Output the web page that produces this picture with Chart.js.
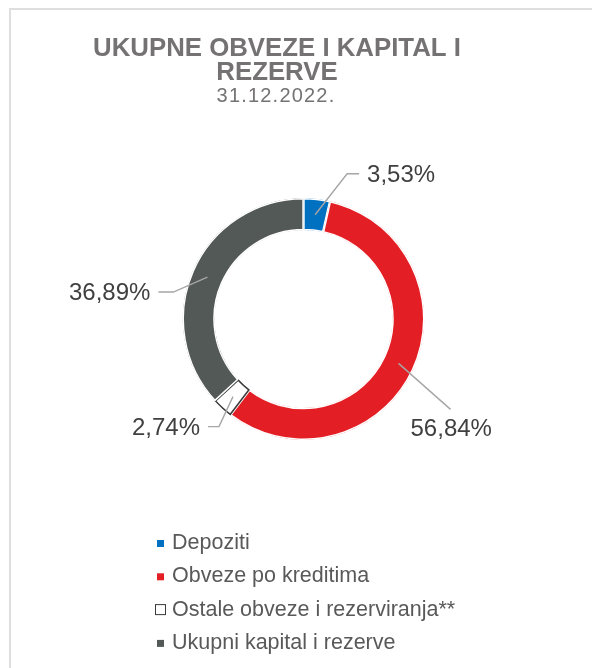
<!DOCTYPE html>
<html>
<head>
<meta charset="utf-8">
<script src="https://cdn.jsdelivr.net/npm/chart.js@4.4.0/dist/chart.umd.min.js"></script>
<style>
  html, body { margin: 0; padding: 0; background: #fff; overflow: hidden; }
  #okvir { position: absolute; left: 9px; top: 8px; width: 700px; height: 800px; border: 2px solid #dedede; }
  #graf { position: absolute; left: 0; top: 0; }
</style>
</head>
<body>
<div id="okvir"></div>
<canvas id="graf" width="592" height="668"></canvas>
<script>
const naslov = ['UKUPNE OBVEZE I KAPITAL I', 'REZERVE'];
const datum = '31.12.2022.';
const kategorije = ['Depoziti', 'Obveze po kreditima', 'Ostale obveze i rezerviranja**', 'Ukupni kapital i rezerve'];
const udjeli = [3.53, 56.84, 2.74, 36.89];
const boje = ['#0070c0', '#e31e24', '#ffffff', '#535957'];
const rubovi = ['#ffffff', '#ffffff', '#3a3a3a', '#ffffff'];

// gdje idu linije i postoci, u odnosu na sredinu isjecka
const oznake = [
  { lom: [32, -41], pomak: 12, tekst: [52, -39], poravnanje: 'left' },
  { lom: [52, 46], pomak: 0, tekst: [12, 66], poravnanje: 'left' },
  { lom: [-14, 30], pomak: -11, tekst: [-33, 32], poravnanje: 'right' },
  { lom: [-34, 15], pomak: -15, tekst: [-57, 16], poravnanje: 'right' },
];

const font = '"Liberation Sans", Arial, sans-serif';

const ukrasi = {
  id: 'ukrasi',
  afterDraw(chart) {
    const ctx = chart.ctx;
    const lukovi = chart.getDatasetMeta(0).data;
    ctx.save();

    // naslov
    ctx.fillStyle = '#747272';
    ctx.textAlign = 'center';
    ctx.textBaseline = 'alphabetic';
    ctx.font = 'bold 25.8px ' + font;
    naslov.forEach((red, i) => ctx.fillText(red, 277, 56 + i * 24));
    ctx.font = '20px ' + font;
    ctx.letterSpacing = '1.2px';
    ctx.fillText(datum, 276, 102);
    ctx.letterSpacing = '0px';

    // postoci
    ctx.font = '24px ' + font;
    ctx.textBaseline = 'middle';
    lukovi.forEach((luk, i) => {
      const p = luk.getCenterPoint();
      const o = oznake[i];
      ctx.strokeStyle = '#a6a6a6';
      ctx.lineWidth = 1.4;
      ctx.beginPath();
      ctx.moveTo(p.x, p.y);
      ctx.lineTo(p.x + o.lom[0], p.y + o.lom[1]);
      ctx.lineTo(p.x + o.lom[0] + o.pomak, p.y + o.lom[1]);
      ctx.stroke();
      ctx.fillStyle = '#404040';
      ctx.textAlign = o.poravnanje;
      ctx.fillText(udjeli[i].toFixed(2).replace('.', ',') + '%', p.x + o.tekst[0], p.y + o.tekst[1]);
    });

    // legenda
    ctx.font = '21.5px ' + font;
    ctx.textAlign = 'left';
    kategorije.forEach((naziv, i) => {
      const y = 543 + i * 33.3;
      if (boje[i] === '#ffffff') {
        ctx.fillStyle = '#ffffff';
        ctx.strokeStyle = rubovi[i];
        ctx.lineWidth = 1;
        ctx.fillRect(155.5, y - 5, 10, 10);
        ctx.strokeRect(155.5, y - 5, 10, 10);
      } else {
        ctx.fillStyle = boje[i];
        ctx.fillRect(157, y - 3, 7, 7);
      }
      ctx.fillStyle = '#595959';
      ctx.fillText(naziv, 172, y);
    });

    ctx.restore();
  }
};

new Chart(document.getElementById('graf'), {
  type: 'doughnut',
  data: {
    labels: kategorije,
    datasets: [{
      data: udjeli,
      backgroundColor: boje,
      borderColor: rubovi,
      borderWidth: [1.2, 1.2, 1.2, 1.2],
      borderAlign: 'inner',
    }],
  },
  options: {
    responsive: false,
    animation: false,
    events: [],
    radius: 121,
    cutout: 88,
    layout: { padding: { left: 183, right: 168, top: 199, bottom: 229 } },
    plugins: {
      legend: { display: false },
      title: { display: false },
      tooltip: { enabled: false },
    },
  },
  plugins: [ukrasi],
});
</script>
</body>
</html>
